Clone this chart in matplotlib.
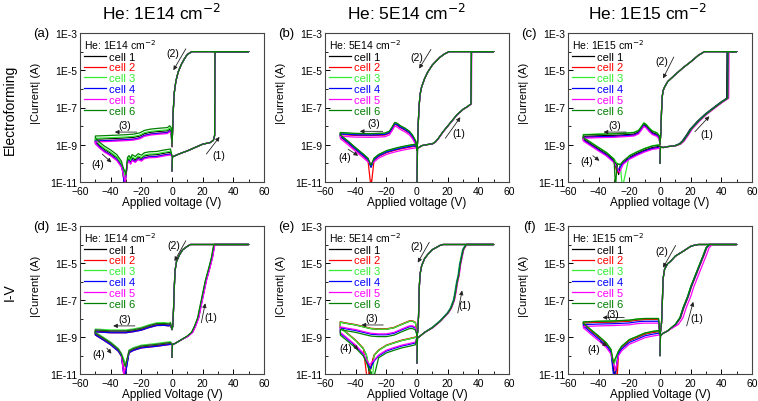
import numpy as np
import matplotlib
matplotlib.use("Agg")
import matplotlib.pyplot as plt
from matplotlib.ticker import FixedLocator, NullFormatter

plt.rcParams['font.family'] = ['Liberation Sans', 'DejaVu Sans']

# ---------- dados (V, log10|I|) ----------
cells = ['cell 1', 'cell 2', 'cell 3', 'cell 4', 'cell 5', 'cell 6']
cell_colors = ['#000000', '#ff0000', '#33ee33', '#0000ff', '#ff00ff', '#008000']
doses = ['1E14', '5E14', '1E15']

# (a) electroforming, 1E14
a_set = [(0, -10.4), (0.3, -9.65), (3, -9.55), (6, -9.45), (10, -9.33), (15, -9.15),
         (20, -8.97), (25, -8.88), (27, -8.76), (27.8, -8.5), (28, -4), (50, -4)]
a_reset = [(50, -4), (13, -4), (10, -4.15), (8, -4.4), (6, -4.7), (4, -5.1), (2.5, -5.6),
           (1.5, -6.2), (0.8, -7.2), (0.4, -8.2), (0, -9.1)]
a_neg = [(0, -9.1), (-0.5, -8.3), (-1.5, -8.2), (-3, -8.3), (-8, -8.33), (-14, -8.38),
         (-18, -8.45), (-21, -8.58), (-25, -8.65), (-30, -8.68), (-40, -8.72), (-50, -8.75)]
a_back = [(-50, -8.85), (-47, -9.1), (-44, -9.3), (-40, -9.5), (-36, -9.75), (-33, -10.1),
          (-32, -10.4), (-29, -9.9), (-28, -9.8), (-27, -9.95), (-26, -9.75), (-24, -9.85),
          (-22, -9.7), (-20, -9.78), (-18, -9.65), (-15, -9.6), (-10, -9.58), (-5, -9.5),
          (-1, -9.45), (0, -9.6)]
a_dlog = [0.05, -0.05, 0.1, -0.05, -0.1, 0.22]
a_dv = [0, 0, 0, 0, 0, 0]
a_vdip = [-31, -31, -30.5, -31, -30.5, -30]
a_idip = [-11.3, -11.2, -10.8, -11.3, -11.0, -10.6]

# (b) electroforming, 5E14
b_set = [(0, -11.2), (0.3, -9.2), (3, -9.05), (6, -9.0), (10, -8.95), (12, -8.85), (14, -8.65),
         (17, -8.3), (20, -8.0), (23, -7.7), (26, -7.4), (30, -7.1), (33, -6.95), (35.3, -6.8),
         (35.5, -4), (50, -4)]
b_reset = [(50, -4), (21, -4), (18, -4.12), (15, -4.3), (12, -4.55), (10, -4.72), (7, -5.1),
           (5, -5.44), (3, -5.9), (2, -6.3), (1.3, -7.0), (0.8, -7.9), (0.4, -8.8), (0, -9.3)]
b_neg = [(0, -9.1), (-1, -8.85), (-3, -8.55), (-5, -8.35), (-8, -8.18), (-11, -8.05),
         (-13, -7.92), (-14.5, -7.88), (-16, -8.1), (-18, -8.35), (-21, -8.45), (-30, -8.48),
         (-40, -8.47), (-50, -8.42)]
b_back = [(-50, -8.55), (-45, -8.88), (-40, -9.24), (-35, -9.58), (-32, -9.8), (-28, -9.8),
          (-25, -9.6), (-20, -9.4), (-15, -9.28), (-10, -9.18), (-5, -9.1), (-1, -9.05), (0, -9.2)]
b_dlog = [0.05, -0.03, 0.05, 0.0, -0.12, 0.08]
b_dv = [0, 0, 0, 0, 0.2, 0]
b_vdip = [-30, -30, -30, -30, -30, -30]
b_idip = [-10.2, -11.3, -10.1, -10.2, -10.0, -10.1]

# (c) electroforming, 1E15
c_set = [(0, -10.0), (0.3, -9.1), (2, -9.15), (5, -9.1), (10, -9.05), (13, -8.95), (15, -8.8),
         (18, -8.45), (20, -8.18), (25, -7.73), (30, -7.35), (35, -7.03), (40, -6.72),
         (44, -6.5), (44.2, -4), (50, -4)]
c_reset = [(50, -4), (29, -4), (25, -4.2), (20, -4.55), (15, -4.87), (10, -5.23), (5, -5.61),
           (3, -5.9), (2, -6.1), (1.5, -6.4), (1, -7.2), (0.5, -8.4), (0, -9.0)]
c_neg = [(0, -9.0), (-0.5, -8.6), (-2, -8.45), (-5, -8.35), (-7, -8.2), (-9, -8.0),
         (-10.5, -7.92), (-12, -8.1), (-14, -8.32), (-17, -8.43), (-20, -8.45), (-30, -8.5),
         (-40, -8.52), (-50, -8.55)]
c_back = [(-50, -8.7), (-45, -8.97), (-40, -9.24), (-35, -9.5), (-30, -9.86), (-28, -10.1),
          (-26, -10.15), (-24, -9.95), (-20, -9.68), (-15, -9.47), (-10, -9.29), (-5, -9.15),
          (-1, -9.1), (0, -9.1)]
c_dlog = [0.0, -0.05, 0.1, -0.05, -0.1, 0.08]
c_dv = [-0.5, 0.3, 0, 0, 0.8, 0.2]
c_vdip = [-27, -28, -24.5, -27.5, -26.5, -29]
c_idip = [-10.6, -10.5, -11.3, -10.4, -10.5, -11.3]

# (d) I-V, 1E14
d_set = [(0, -10.1), (0.3, -9.4), (2, -9.35), (5, -9.2), (10, -8.96), (13, -8.75), (15, -8.4),
         (17, -7.96), (18, -7.55), (20, -6.75), (22, -5.95), (24, -5.35), (26, -4.7),
         (27.5, -4.0), (50, -4)]
d_reset = [(50, -4), (12, -4), (10, -4.1), (7, -4.28), (5, -4.54), (3, -4.9), (2, -5.4),
           (1.5, -6.3), (1, -7.5), (0.5, -8.4), (0, -8.6)]
d_neg = [(0, -8.6), (-1, -8.3), (-2, -8.35), (-5, -8.32), (-10, -8.33), (-15, -8.44),
         (-20, -8.58), (-25, -8.66), (-30, -8.72), (-40, -8.72), (-48, -8.68), (-50, -8.67)]
d_back = [(-50, -8.84), (-45, -9.1), (-40, -9.37), (-35, -9.72), (-33, -9.98), (-28, -9.8),
          (-25, -9.67), (-20, -9.54), (-10, -9.45), (-3, -9.37), (-1, -9.35), (0, -9.4)]
d_dlog = [0.0, -0.05, 0.1, -0.05, 0.05, 0.05]
d_dv = [0, 0.3, 0, 0.3, 0.5, -0.3]
d_vdip = [-31, -31, -30, -31, -31.5, -30.5]
d_idip = [-11.3, -11.0, -10.5, -11.3, -11.0, -10.6]

# (e) I-V, 5E14
e_set = [(0, -10.4), (0.3, -9.05), (2, -8.95), (5, -8.75), (10, -8.49), (15, -8.14), (20, -7.7),
         (22, -7.44), (24, -7.0), (25, -6.56), (26, -6.04), (27, -5.68), (28, -5.07),
         (30, -4.28), (32, -4.0), (50, -4)]
e_reset = [(50, -4), (17, -4), (15, -4.05), (10, -4.28), (7, -4.54), (5, -4.75), (3, -5.16),
           (2, -5.6), (1.5, -6.3), (1, -7.88), (0.5, -8.7), (0, -8.93)]
e_neg = [(0, -8.9), (-1, -8.23), (-3, -8.14), (-5, -8.15), (-10, -8.32), (-15, -8.5),
         (-20, -8.58), (-25, -8.58), (-30, -8.55), (-35, -8.45), (-40, -8.35), (-45, -8.28),
         (-50, -8.2)]
e_back = [(-50, -8.5), (-45, -8.84), (-40, -9.19), (-35, -9.63), (-33, -9.98), (-28, -10.0),
          (-25, -9.72), (-20, -9.46), (-15, -9.32), (-10, -9.19), (-5, -9.1), (-1, -9.02), (0, -9.0)]
e_dlog = [0.0, 0.02, 0.0, -0.3, -0.25, -0.4]
e_dv = [0, 0.3, -0.3, 0, 0.5, 0.2]
e_vdip = [-31, -32.5, -29, -30.5, -31, -28.5]
e_idip = [-11.0, -11.3, -11.3, -10.7, -10.5, -11.3]

# (f) I-V, 1E15
f_set = [(0, -10.0), (0.3, -8.93), (2, -8.8), (5, -8.67), (10, -8.32), (13, -7.96), (15, -7.44),
         (18, -6.82), (20, -6.3), (25, -5.25), (28, -4.63), (30, -4.19), (32, -4.0), (50, -4)]
f_reset = [(50, -4), (25, -4), (22, -4.05), (20, -4.1), (15, -4.37), (10, -4.63), (7, -4.9),
           (5, -5.04), (3, -5.33), (2, -5.86), (1.5, -7.18), (1, -8.23), (0.5, -8.6), (0, -8.9)]
f_neg = [(0, -8.9), (-1, -8.05), (-5, -8.05), (-10, -8.05), (-15, -8.08), (-20, -8.14),
         (-30, -8.18), (-40, -8.2), (-50, -8.23)]
f_back = [(-50, -8.3), (-45, -8.66), (-40, -9.0), (-35, -9.37), (-32, -9.72), (-27, -9.8),
          (-25, -9.55), (-20, -9.19), (-15, -9.02), (-10, -8.84), (-5, -8.75), (-1, -8.7), (0, -8.8)]
f_dlog = [0.0, 0.0, 0.05, -0.1, -0.2, 0.05]
f_dv = [0, 0.5, 0, 0.3, 2.0, 0]
f_vdip = [-29.5, -28, -30, -30, -29, -30.5]
f_idip = [-11.3, -11.3, -10.5, -11.3, -10.8, -10.4]

# ---------- layout ----------
W, H = 758, 402
col_left = [80, 325, 568]
ax_w = 184
row_top = [34, 227]
row_h = [149, 148]

# setas: texto, cauda, ponta (V, log10 I)
arrows = {
    'a': [((0.5, -4.05), (9, -3.85), (0.9, -5.0)), ((30.5, -9.55), (22.4, -9.5), (31, -8.58)),
          ((-30.7, -7.95), (-23, -8.32), (-37.3, -8.32)), ((-48.5, -10.05), (-45.5, -9.5), (-39.5, -9.95))],
    'b': [((0.0, -4.29), (9.1, -3.88), (1.4, -4.91)), ((27.2, -8.35), (18.5, -8.65), (28.3, -7.52)),
          ((-28.5, -7.82), (-22.4, -8.28), (-37.3, -8.28)), ((-47, -9.68), (-44.9, -9.24), (-38.4, -9.59))],
    'c': [((1.5, -4.5), (9, -4.29), (2, -5.44)), ((30.5, -8.4), (22.8, -8.3), (32.2, -7.47)),
          ((-29.6, -7.95), (-22, -8.32), (-36.8, -8.32)), ((-47.8, -9.86), (-43.8, -9.59), (-39.5, -9.86))],
    'd': [((1, -4.05), (9, -3.8), (1.6, -4.9)), ((25, -7.9), (19.1, -8.23), (21.7, -7.18)),
          ((-30.7, -8.05), (-24.2, -8.4), (-38.4, -8.4)), ((-47.8, -9.9), (-42.5, -9.6), (-39.5, -9.9))],
    'e': [((-0.1, -4.1), (8, -3.88), (0.5, -4.98)), ((31.1, -7.28), (26.6, -7.7), (29.4, -6.49)),
          ((-29.6, -8.0), (-22, -8.35), (-36.2, -8.35)), ((-46.7, -9.6), (-41.6, -9.4), (-38.4, -9.7))],
    'f': [((1.4, -4.35), (10.2, -4.05), (2, -5.25)), ((24, -8.0), (17.4, -8.4), (21.7, -7.1)),
          ((-30.7, -7.73), (-23.3, -7.95), (-37.5, -7.95)), ((-43, -9.65), (-39, -9.25), (-34.5, -9.5))],
}

panels = [
    ('a', a_set, a_reset, a_neg, a_back, a_dlog, a_dv, a_vdip, a_idip),
    ('b', b_set, b_reset, b_neg, b_back, b_dlog, b_dv, b_vdip, b_idip),
    ('c', c_set, c_reset, c_neg, c_back, c_dlog, c_dv, c_vdip, c_idip),
    ('d', d_set, d_reset, d_neg, d_back, d_dlog, d_dv, d_vdip, d_idip),
    ('e', e_set, e_reset, e_neg, e_back, e_dlog, e_dv, e_vdip, e_idip),
    ('f', f_set, f_reset, f_neg, f_back, f_dlog, f_dv, f_vdip, f_idip),
]


def cell_loop(set_, reset, neg, back, dlog, dv, vdip, idip):
    # monta o ciclo completo (1)->(2)->(3)->(4) de uma célula
    pts = []
    for v, i in set_:
        pts.append((v + dv if 5 < v < 50 else v, i))
    pts += list(reset)
    pts += [(v, i + dlog if v < 0 else i) for v, i in neg]
    tail = [(v, i + dlog if v < 0 else i) for v, i in back if abs(v - vdip) > 0.8]
    tail.append((vdip, idip))
    tail.sort()
    pts += tail
    v = np.array([p[0] for p in pts])
    i = np.minimum(np.array([p[1] for p in pts]), -4)
    return v, 10.0 ** i


fig = plt.figure(figsize=(W / 100, H / 100), dpi=100)

for n, (tag, set_, reset, neg, back, dlog, dv, vdip, idip) in enumerate(panels):
    r, c = divmod(n, 3)
    ax = fig.add_axes([col_left[c] / W, 1 - (row_top[r] + row_h[r]) / H, ax_w / W, row_h[r] / H])
    for k in range(6):
        v, i = cell_loop(set_, reset, neg, back, dlog[k], dv[k], vdip[k], idip[k])
        ax.plot(v, i, color=cell_colors[k], lw=0.9, label=cells[k])

    ax.set_yscale('log')
    ax.set_xlim(-60, 60)
    ax.set_ylim(1e-11, 1e-3)
    ax.set_xticks(np.arange(-60, 61, 20))
    ax.xaxis.set_minor_locator(FixedLocator(np.arange(-50, 60, 20)))
    yt = 10.0 ** np.arange(-11, -2, 2)
    ax.set_yticks(yt, ['1E%d' % e for e in range(-11, -2, 2)])
    ax.yaxis.set_minor_locator(FixedLocator(10.0 ** np.arange(-10, -3, 2)))
    ax.yaxis.set_minor_formatter(NullFormatter())
    ax.tick_params(which='both', direction='in', labelsize=7.5)
    ax.tick_params(axis='x', pad=2.6)
    ax.tick_params(axis='y', pad=2.0)
    ax.tick_params(which='major', length=3.5, width=0.7)
    ax.tick_params(which='minor', length=2, width=0.6)
    for s in ax.spines.values():
        s.set_linewidth(0.8)
        s.set_color('#444444')

    ax.set_xlabel('Applied voltage (V)' if r == 0 else 'Applied Voltage (V)', fontsize=8.5, labelpad=0.5)
    ax.set_ylabel('|Current| (A)', fontsize=8, labelpad=3)
    ax.yaxis.set_label_coords(-0.21, 0.6)
    ax.text(-0.21, 1.0, '(%s)' % tag, transform=ax.transAxes, fontsize=9.5,
            ha='center', va='center')

    leg = ax.legend(loc='upper left', bbox_to_anchor=(0.0, 1.0), frameon=False,
                    title='He: %s cm$^{-2}$' % doses[c], title_fontsize=7.5, fontsize=8,
                    handlelength=2.0, handletextpad=0.3, labelspacing=0.08,
                    borderpad=0.25, borderaxespad=0.1, alignment='left')
    for t, col in zip(leg.get_texts(), cell_colors):
        t.set_color(col)

    for lab, (txt, tail, head) in zip(['(2)', '(1)', '(3)', '(4)'], arrows[tag]):
        ax.annotate('', xy=(head[0], 10 ** head[1]), xytext=(tail[0], 10 ** tail[1]),
                    arrowprops=dict(arrowstyle='-|>', lw=0.6, color='#222222',
                                    mutation_scale=6, shrinkA=0, shrinkB=0))
        ax.text(txt[0], 10 ** txt[1], lab, fontsize=7.5, ha='center', va='center')

# títulos das colunas e das linhas
for x, d in zip([162, 407, 648], doses):
    fig.text(x / W, 1 - 13 / H, 'He: %s cm$^{-2}$' % d, fontsize=12.5, ha='center', va='center')
fig.text(10 / W, 1 - 110 / H, 'Electroforming', rotation=90, fontsize=10, ha='center', va='center')
fig.text(10 / W, 1 - 292 / H, 'I-V', rotation=90, fontsize=10, ha='center', va='center')

fig.savefig('out.png', dpi=100)
